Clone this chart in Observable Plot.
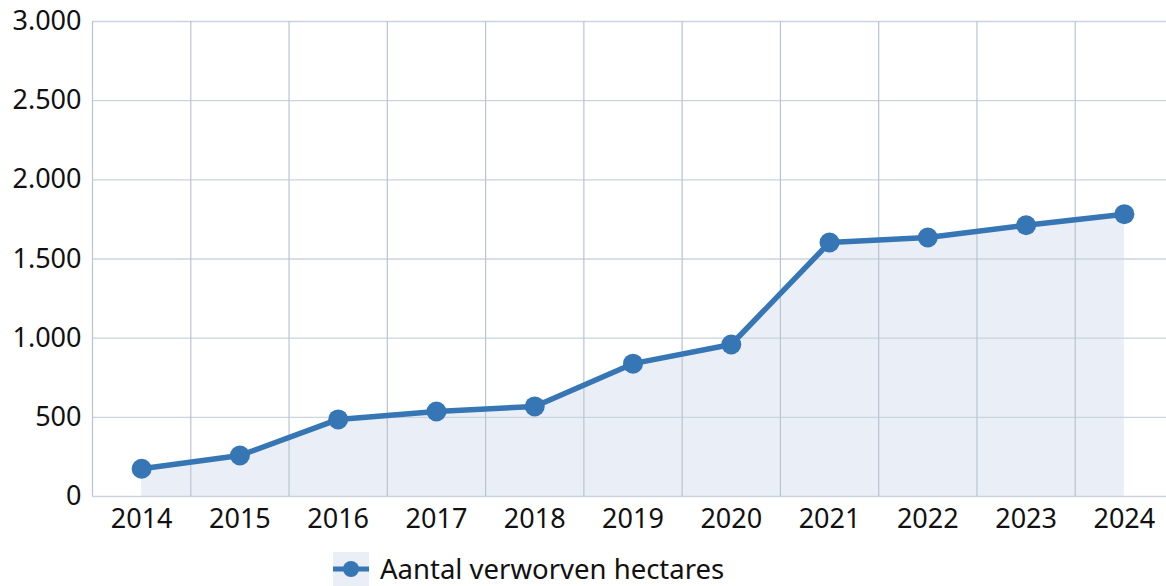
<!DOCTYPE html>
<html>
<head>
<meta charset="utf-8">
<script src="https://cdn.jsdelivr.net/npm/d3@7"></script>
<script src="https://cdn.jsdelivr.net/npm/@observablehq/plot@0.6"></script>
<style>
  html, body { margin: 0; padding: 0; background: #fff; overflow: hidden; }
  #wrap { position: relative; width: 1166px; height: 586px; }
  #legend { position: absolute; left: 333px; top: 552px; height: 34px; display: flex; align-items: center; font-family: "Noto Sans", sans-serif; font-size: 27.5px; line-height: 30px; color: #111; }
  #legend svg { display: block; margin-right: 11px; }
</style>
</head>
<body>
<div id="wrap">
  <div id="chart"></div>
  <div id="legend"></div>
</div>
<script>
const years = [2014, 2015, 2016, 2017, 2018, 2019, 2020, 2021, 2022, 2023, 2024];
const hectares = [175, 259, 487, 537, 569, 839, 960, 1604, 1636, 1713, 1783];
const yTicks = [0, 500, 1000, 1500, 2000, 2500, 3000];
const seriesName = "Aantal verworven hectares";

const data = years.map((y, i) => ({year: y, value: hectares[i]}));
const bandEdges = [years[0] - 0.5, ...years.slice(0, -1).map(y => y + 0.5)];
const lineColor = "#3776b4";
const fmt = d => d3.format(",")(d).replace(/,/g, ".");

const chart = Plot.plot({
  width: 1166,
  height: 545,
  marginLeft: 92,
  marginRight: 0,
  marginTop: 21,
  marginBottom: 49,
  style: {fontFamily: "Noto Sans, sans-serif", fontSize: "27px", color: "#111", background: "#fff"},
  x: {type: "linear", domain: [years[0] - 0.5, years[years.length - 1] + 0.5], range: [92, 1173]},
  y: {domain: [0, 3000]},
  marks: [
    Plot.areaY(data, {x: "year", y: "value", fill: "#eaeff7"}),
    Plot.ruleY(yTicks, {stroke: "#cbd3de", strokeWidth: 1.3}),
    Plot.ruleX(bandEdges, {y1: 0, y2: 3000, stroke: "#b9c4d1", strokeWidth: 1.2}),
    Plot.axisY({ticks: yTicks, tickSize: 0, tickPadding: 11, tickFormat: fmt, fontSize: 27, label: null}),
    Plot.axisX({ticks: years, tickSize: 0, tickPadding: 12, tickFormat: d => String(d), fontSize: 27, label: null}),
    Plot.lineY(data, {x: "year", y: "value", stroke: lineColor, strokeWidth: 5.5}),
    Plot.dot(data, {x: "year", y: "value", r: 10, fill: lineColor})
  ]
});
document.getElementById("chart").appendChild(chart);

const legend = document.getElementById("legend");
legend.innerHTML = `<svg width="36" height="34"><rect width="36" height="34" fill="#eaeff7"/><line x1="0" x2="36" y1="17" y2="17" stroke="${lineColor}" stroke-width="5"/><circle cx="18" cy="17" r="8" fill="${lineColor}"/></svg><span>${seriesName}</span>`;
</script>
</body>
</html>
